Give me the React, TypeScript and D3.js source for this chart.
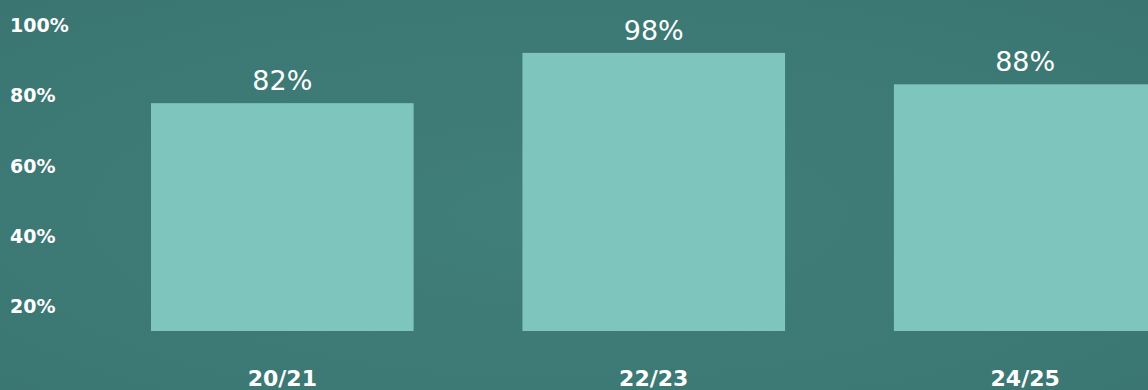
import React from "react";
import * as d3 from "d3";

const categories = ["20/21", "22/23", "24/25"];
const values = [82, 98, 88];
const valueLabels = ["82%", "98%", "88%"];
const tickValues = [100, 80, 60, 40, 20];
const tickLabels = ["100%", "80%", "60%", "40%", "20%"];

const W = 1148;
const H = 390;

export default function App() {
  // x positions of bars
  const x = d3
    .scaleBand<string>()
    .domain(categories)
    .range([151, 1156.5])
    .paddingInner(0.293)
    .paddingOuter(0)
    .align(0);

  // axis label scale
  const yAxis = d3.scaleLinear().domain([20, 100]).range([313, 32]);
  // bar scale (as drawn in the original)
  const yBar = d3.scaleLinear().domain([9.5, 100]).range([331, 46.6]);
  const base = yBar(9.5);

  return (
    <svg
      width={W}
      height={H}
      style={{ position: "absolute", left: 0, top: 0, display: "block" }}
    >
      <defs>
        <radialGradient id="bg" cx="50%" cy="55%" r="75%">
          <stop offset="0%" stopColor="#417f7b" />
          <stop offset="100%" stopColor="#3a7571" />
        </radialGradient>
      </defs>
      <rect x={0} y={0} width={W} height={H} fill="url(#bg)" />

      {tickValues.map((t, i) => (
        <text
          key={t}
          x={10}
          y={yAxis(t)}
          fill="#ffffff"
          fontFamily="DejaVu Sans"
          fontWeight="bold"
          fontSize={19}
        >
          {tickLabels[i]}
        </text>
      ))}

      {categories.map((c, i) => {
        const bx = x(c)!;
        const bw = x.bandwidth();
        const top = yBar(values[i]);
        return (
          <g key={c}>
            <rect
              x={bx}
              y={top}
              width={bw}
              height={base - top}
              fill="#7ec6bd"
            />
            <text
              x={bx + bw / 2}
              y={top - 13}
              fill="#ffffff"
              fontFamily="DejaVu Sans"
              fontSize={27}
              textAnchor="middle"
            >
              {valueLabels[i]}
            </text>
            <text
              x={bx + bw / 2}
              y={386}
              fill="#ffffff"
              fontFamily="DejaVu Sans"
              fontWeight="bold"
              fontSize={22}
              textAnchor="middle"
            >
              {c}
            </text>
          </g>
        );
      })}
    </svg>
  );
}
